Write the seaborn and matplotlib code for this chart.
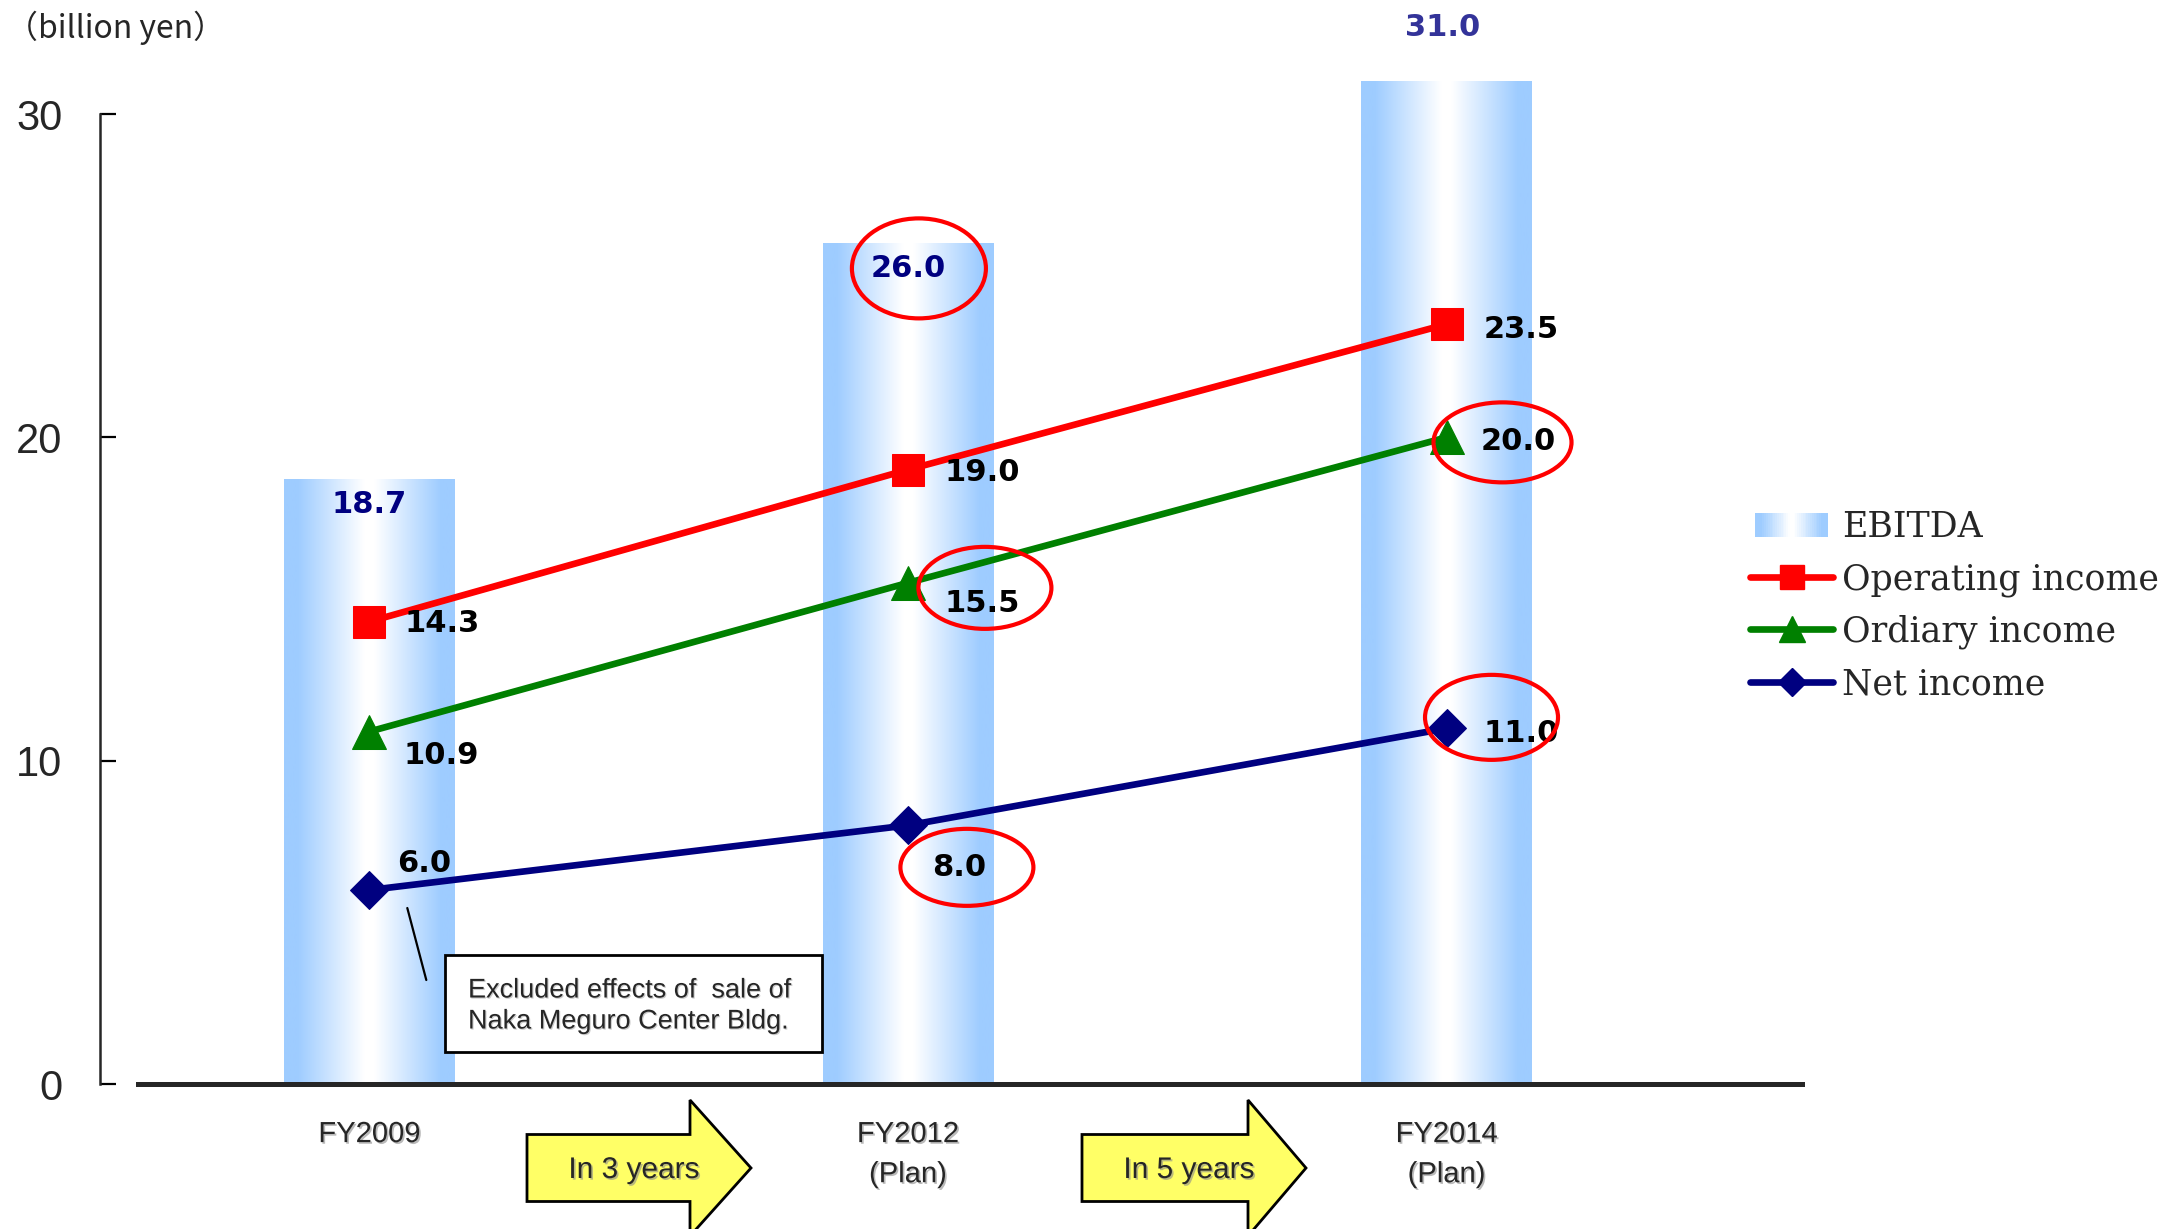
import numpy as np
import pandas as pd
import matplotlib
matplotlib.use("Agg")
import matplotlib.pyplot as plt
import matplotlib.patheffects as pe
import matplotlib.transforms as mtransforms
from matplotlib.patches import Ellipse, Polygon, Rectangle
from matplotlib.lines import Line2D
from matplotlib.legend_handler import HandlerBase
from matplotlib.font_manager import FontProperties
import seaborn as sns

# ---- data (billion yen) ----
categories = ["FY2009", "FY2012", "FY2014"]
tick_labels = ["FY2009", "FY2012\n(Plan)", "FY2014\n(Plan)"]
ebitda = [18.7, 26.0, 31.0]
operating_income = [14.3, 19.0, 23.5]
ordinary_income = [10.9, 15.5, 20.0]
net_income = [6.0, 8.0, 11.0]
y_ticks = [0, 10, 20, 30]
step_labels = ["In 3 years", "In 5 years"]
note_text = "Excluded effects of  sale of\nNaka Meguro Center Bldg."

# ---- canvas ----
W, H, DPI = 2176, 1229, 100
PT = DPI / 72.0
sns.set_style("white")
plt.rcParams["font.family"] = ["Liberation Sans", "DejaVu Sans"]

fig = plt.figure(figsize=(W / DPI, H / DPI), dpi=DPI)
fig.patch.set_facecolor("white")
ax = fig.add_axes([100 / W, (H - 1084) / H, (1802 - 100) / W, (1084 - 49.4) / H])


def fpx(x, y):
    """Figure pixel (from top-left) -> figure fraction."""
    return (x / W, 1 - y / H)


BAR_BLUE = np.array([158, 204, 255]) / 255.0


def gradient_row(n=256):
    t = np.linspace(0, 1, n)
    f = np.clip((np.abs(2 * t - 1) - 0.06) / 0.78, 0, 1)
    rgb = (1 - f)[:, None] * np.ones(3) + f[:, None] * BAR_BLUE
    return rgb


# ---- EBITDA bars with a horizontal light-blue/white gradient ----
df = pd.DataFrame({"category": categories, "EBITDA": ebitda})
sns.barplot(data=df, x="category", y="EBITDA", order=categories, width=0.316,
            color="#9ECCFF", saturation=1, ax=ax)
grad = gradient_row()[None, :, :]
for patch in ax.patches:
    x0, y0 = patch.get_x(), patch.get_y()
    w, h = patch.get_width(), patch.get_height()
    patch.set_visible(False)
    ax.imshow(grad, extent=[x0, x0 + w, y0, y0 + h], aspect="auto",
              interpolation="bilinear", zorder=1)

positions = np.arange(len(categories))

# ---- income lines ----
line_specs = [
    (operating_income, "#FF0000", "s", 23),
    (ordinary_income, "#008000", "^", 25),
    (net_income, "#000080", "D", 19),
]
for values, color, marker, ms in line_specs:
    sns.lineplot(x=positions, y=values, color=color, marker=marker, markersize=ms,
                 markeredgecolor=color, linewidth=4.8, ax=ax, zorder=3)

ax.set_xlim(-0.5, 2.66)
ax.set_ylim(0, 32)
ax.set_xlabel("")
ax.set_ylabel("")

# ---- axes styling ----
for side in ["top", "right"]:
    ax.spines[side].set_visible(False)
ax.spines["left"].set_bounds(0, 30)
ax.spines["left"].set_linewidth(1.8)
ax.spines["bottom"].set_bounds(-0.43, 2.66)
ax.spines["bottom"].set_linewidth(3.6)
ax.spines["bottom"].set_zorder(5)
ax.set_yticks(y_ticks)
ax.tick_params(axis="y", left=True, direction="in", length=11.5, width=1.6,
               color="black", labelsize=30, pad=27)
ax.set_xticks(positions, tick_labels)
ax.tick_params(axis="x", bottom=False, length=0, labelsize=21, pad=26)
shadow = [pe.withSimplePatchShadow(offset=(1.2, -1.2), shadow_rgbFace=(0.55, 0.55, 0.55), alpha=0.6)]
for lab in ax.get_xticklabels():
    lab.set_linespacing(1.55)
    lab.set_path_effects(shadow)

# ---- value labels ----
label_font = dict(fontfamily="DejaVu Sans", fontweight="bold", fontsize=22)
# EBITDA labels (dx px, dy px up)
ebitda_offsets = [(0, -25), (0, -25), (-4, 54)]
ebitda_colors = ["#000080", "#000080", "#333399"]
for i, v in enumerate(ebitda):
    dx, dy = ebitda_offsets[i]
    ax.annotate(f"{v:.1f}", xy=(i, v), xytext=(dx / PT, dy / PT), textcoords="offset points",
                ha="center", va="center", color=ebitda_colors[i], annotation_clip=False,
                zorder=6, **label_font)

line_label_offsets = [
    (operating_income, [(35, -2), (37, -3), (37, -5)], ["left"] * 3),
    (ordinary_income, [(34, -24), (37, -21), (34, -4)], ["left"] * 3),
    (net_income, [(28, 27), (51, -42), (37, -5)], ["left", "center", "left"]),
]
for values, offs, has in line_label_offsets:
    for i, v in enumerate(values):
        dx, dy = offs[i]
        ax.annotate(f"{v:.1f}", xy=(i, v), xytext=(dx / PT, dy / PT), textcoords="offset points",
                    ha=has[i], va="center", color="black", zorder=6, **label_font)


# ---- red highlight ellipses (pixel sized, anchored to data points) ----
def anchored(xd, yd):
    return mtransforms.Affine2D() + mtransforms.ScaledTranslation(xd, yd, ax.transData)


highlights = [
    (1, ebitda[1], 11, -25, 134, 100),
    (1, ordinary_income[1], 77, -5, 133, 82),
    (2, ordinary_income[2], 56, -5, 138, 80),
    (1, net_income[1], 59, -42, 133, 77),
    (2, net_income[2], 45, 11, 133, 85),
]
for xi, yv, dx, dy, w, h in highlights:
    ax.add_patch(Ellipse((dx, dy), w, h, transform=anchored(xi, yv), fill=False,
                         edgecolor="#FF0000", linewidth=3, zorder=7, clip_on=False))

# leader line from the FY2009 net income point to the note box
ax.add_line(Line2D([38, 57], [-18, -90], transform=anchored(0, net_income[0]),
                   color="black", linewidth=1.6, zorder=6, clip_on=False))

# note box
bx0, by0 = fpx(445, 1052)
bx1, by1 = fpx(822, 955)
fig.add_artist(Rectangle((bx0, by0), bx1 - bx0, by1 - by0, transform=fig.transFigure,
                         facecolor="white", edgecolor="black", linewidth=2, zorder=8))
tx, ty = fpx(468, 1006)
fig.text(tx, ty, note_text, ha="left", va="center", fontsize=19.5, linespacing=1.25,
         zorder=9, path_effects=[pe.withSimplePatchShadow(offset=(0.8, -0.8),
                                                          shadow_rgbFace=(0.6, 0.6, 0.6), alpha=0.5)])


# ---- yellow step arrows under the axis ----
def block_arrow(x_left, x_head, x_tip, y_mid, half_body, half_head):
    pts = [(x_left, y_mid - half_body), (x_head, y_mid - half_body), (x_head, y_mid - half_head),
           (x_tip, y_mid), (x_head, y_mid + half_head), (x_head, y_mid + half_body),
           (x_left, y_mid + half_body)]
    return Polygon([fpx(px, py) for px, py in pts], closed=True, transform=fig.transFigure,
                   facecolor="#FFFF66", edgecolor="black", linewidth=2, zorder=4)


arrow_geom = [(527, 690, 751, 1168, 33.5, 68, 634), (1082, 1248, 1306, 1168, 33.5, 68, 1189)]
for (xl, xh, xt, ym, hb, hh, xtext), text in zip(arrow_geom, step_labels):
    fig.add_artist(block_arrow(xl, xh, xt, ym, hb, hh))
    px_, py_ = fpx(xtext, 1170)
    fig.text(px_, py_, text, ha="center", va="center", fontsize=21.5, zorder=5,
             path_effects=shadow)

# ---- unit label ----
ux, uy = fpx(6, 28)
fig.text(ux, uy, "（billion yen）", ha="left", va="center", fontsize=23,
         family=["Noto Sans CJK JP", "DejaVu Sans"])


# ---- legend ----
class HandlerGradient(HandlerBase):
    def create_artists(self, legend, orig_handle, xdescent, ydescent, width, height, fontsize, trans):
        cols = gradient_row(40)
        n = len(cols)
        arts = []
        for k in range(n):
            r = Rectangle((-xdescent + 0.06 * width + k * width * 0.88 / n, -ydescent),
                          width * 0.88 / n * 1.05, height, facecolor=cols[k], edgecolor="none",
                          transform=trans)
            arts.append(r)
        return arts


ebitda_key = Rectangle((0, 0), 1, 1)
handles = [
    ebitda_key,
    Line2D([], [], color="#FF0000", lw=4.8, marker="s", ms=17, solid_capstyle="round"),
    Line2D([], [], color="#008000", lw=4.8, marker="^", ms=19, solid_capstyle="round"),
    Line2D([], [], color="#000080", lw=4.8, marker="D", ms=14, solid_capstyle="round"),
]
labels = ["EBITDA", "Operating income", "Ordiary income", "Net income"]
lx, ly = fpx(1750, 510)
fig.legend(handles, labels, loc="upper left", bbox_to_anchor=(lx, ly), frameon=False,
           prop=FontProperties(family="DejaVu Serif", size=25), handlelength=2.4,
           handletextpad=0.25, labelspacing=0.52, borderpad=0, borderaxespad=0,
           handler_map={ebitda_key: HandlerGradient()})

fig.savefig("out.png", dpi=DPI, facecolor="white")
